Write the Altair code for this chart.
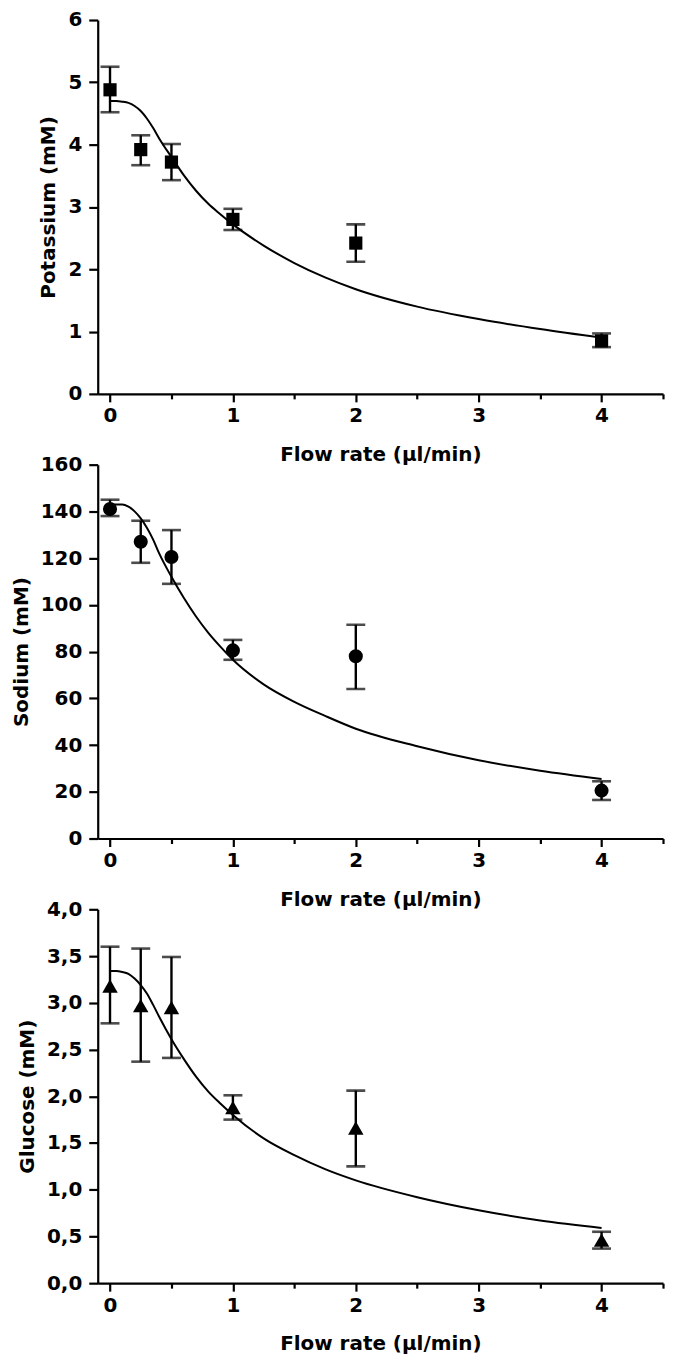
import altair as alt
import pandas as pd

flow = [0, 0.25, 0.5, 1, 2, 4]

k_mean = [4.88, 3.92, 3.72, 2.80, 2.42, 0.85]
k_lo = [4.52, 3.67, 3.43, 2.63, 2.12, 0.75]
k_hi = [5.25, 4.15, 4.01, 2.97, 2.72, 0.97]

na_mean = [141, 127, 120.5, 80.5, 78, 20.5]
na_lo = [138, 118, 109, 76.5, 64, 16.5]
na_hi = [145, 136, 132, 85, 91.5, 24.5]

glu_mean = [3.18, 2.97, 2.95, 1.88, 1.66, 0.46]
glu_lo = [2.78, 2.37, 2.41, 1.75, 1.25, 0.37]
glu_hi = [3.60, 3.58, 3.49, 2.01, 2.06, 0.55]

fit_x = [0, 0.05, 0.1, 0.15, 0.2, 0.25, 0.3, 0.35, 0.4, 0.5, 0.6, 0.7, 0.8, 0.9, 1.0, 1.25, 1.5, 1.75, 2.0, 2.5, 3.0, 3.5, 4.0]
k_fit = [4.70, 4.70, 4.69, 4.67, 4.62, 4.54, 4.42, 4.27, 4.10, 3.80, 3.51, 3.26, 3.05, 2.88, 2.72, 2.38, 2.10, 1.87, 1.68, 1.40, 1.20, 1.04, 0.90]
na_fit = [143, 143, 143, 142, 140, 137, 133, 128, 122, 112, 103, 95, 88, 82, 76.5, 66, 58.5, 52.5, 47, 39.5, 33.5, 29, 25.5]
glu_fit = [3.34, 3.34, 3.33, 3.31, 3.26, 3.19, 3.10, 2.98, 2.85, 2.61, 2.40, 2.21, 2.05, 1.92, 1.80, 1.55, 1.37, 1.22, 1.10, 0.92, 0.78, 0.67, 0.59]

FONT = "DejaVu Sans"
W, H = 567, 375


def panel(mean, lo, hi, fit, ytitle, ymax, ystep, shape, size, label_expr):
    pts = pd.DataFrame({"x": flow, "y": mean, "lo": lo, "hi": hi})
    fdf = pd.DataFrame({"x": fit_x, "y": fit})
    xs = alt.Scale(domain=[-0.1, 4.5], nice=False, zero=False)
    ys = alt.Scale(domain=[0, ymax], nice=False)
    xvals = [i * 0.5 for i in range(10)]
    yvals = [i * ystep / 2 for i in range(int(round(ymax / (ystep / 2))) + 1)]
    xaxis = alt.Axis(
        title="Flow rate (µl/min)", values=xvals,
        labelExpr="datum.value % 1 === 0 ? format(datum.value, 'd') : ''",
        tickSize={"condition": {"test": "datum.value % 1 === 0", "value": 8}, "value": 5},
        labelPadding=4, titlePadding=19,
    )
    yaxis = alt.Axis(
        title=ytitle, values=yvals, labelExpr=label_expr,
        tickSize={"condition": {"test": f"abs(datum.value / {ystep} - round(datum.value / {ystep})) < 0.001", "value": 9}, "value": 5},
        labelPadding=7, titlePadding=9,
    )
    line = alt.Chart(fdf).mark_line(color="black", strokeWidth=2, interpolate="monotone").encode(
        x=alt.X("x:Q", scale=xs, axis=xaxis), y=alt.Y("y:Q", scale=ys, axis=yaxis)
    )
    rule = alt.Chart(pts).mark_rule(color="black", strokeWidth=2.4).encode(
        x=alt.X("x:Q", scale=xs), y=alt.Y("lo:Q", scale=ys), y2="hi:Q"
    )
    cap_lo = alt.Chart(pts).mark_tick(color="black", thickness=2.6, size=19, orient="horizontal").encode(
        x=alt.X("x:Q", scale=xs), y=alt.Y("lo:Q", scale=ys)
    )
    cap_hi = alt.Chart(pts).mark_tick(color="black", thickness=2.6, size=19, orient="horizontal").encode(
        x=alt.X("x:Q", scale=xs), y=alt.Y("hi:Q", scale=ys)
    )
    pt = alt.Chart(pts).mark_point(shape=shape, filled=True, color="black", opacity=1, size=size).encode(
        x=alt.X("x:Q", scale=xs), y=alt.Y("y:Q", scale=ys)
    )
    return alt.layer(line, rule, cap_lo, cap_hi, pt).properties(width=W, height=H)


p1 = panel(k_mean, k_lo, k_hi, k_fit, "Potassium (mM)", 6, 1, "square", 175,
           "datum.value % 1 === 0 ? format(datum.value, 'd') : ''")
p2 = panel(na_mean, na_lo, na_hi, na_fit, "Sodium (mM)", 160, 20, "circle", 200,
           "datum.value % 20 === 0 ? format(datum.value, 'd') : ''")
p3 = panel(glu_mean, glu_lo, glu_hi, glu_fit, "Glucose (mM)", 4, 0.5, "triangle-up", 240,
           "abs(datum.value * 2 - round(datum.value * 2)) < 0.001 ? replace(format(datum.value, '.1f'), '.', ',') : ''")

chart = alt.vconcat(p1, p2, p3, spacing=71, bounds="flush").properties(
    padding={"left": 3, "top": 0, "right": 0, "bottom": 0}
).configure(background="white").configure_view(
    stroke=None
).configure_axis(
    domainColor="black", domainWidth=2.2, tickColor="black", tickWidth=2.2,
    grid=False, labelFont=FONT, labelFontSize=20, labelFontWeight="bold", labelColor="black",
    titleFont=FONT, titleFontSize=20, titleFontWeight="bold", titleColor="black",
)

chart.save("out.html", embed_options={"renderer": "svg", "actions": False})
